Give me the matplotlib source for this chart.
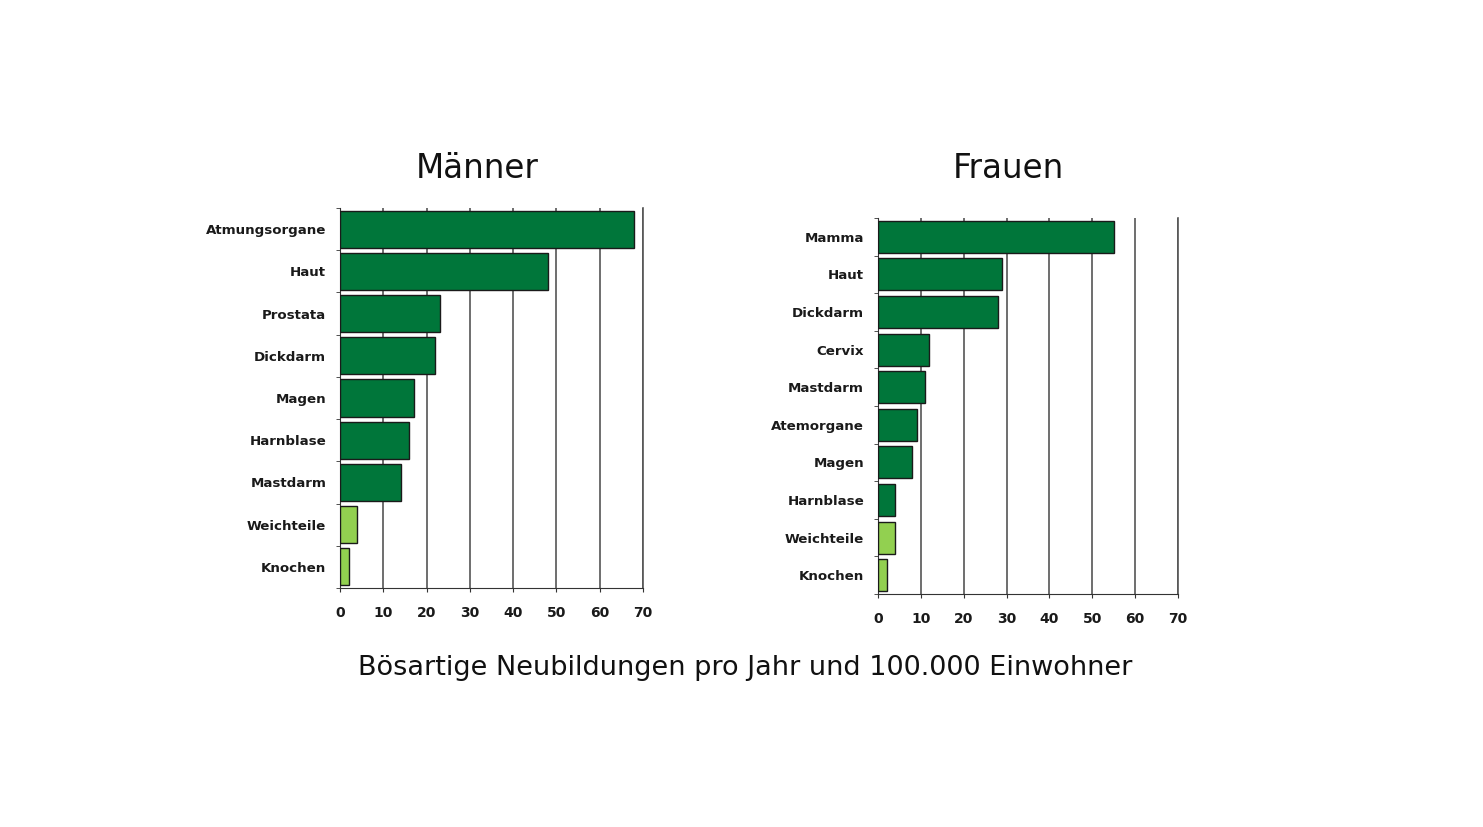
import numpy as np
import matplotlib
matplotlib.use('Agg')
import matplotlib.pyplot as plt

# Data
men_labels = ['Atmungsorgane', 'Haut', 'Prostata', 'Dickdarm', 'Magen',
              'Harnblase', 'Mastdarm', 'Weichteile', 'Knochen']
men_values = [68, 48, 23, 22, 17, 16, 14, 4, 2]
men_light = [False, False, False, False, False, False, False, True, True]

women_labels = ['Mamma', 'Haut', 'Dickdarm', 'Cervix', 'Mastdarm',
                'Atemorgane', 'Magen', 'Harnblase', 'Weichteile', 'Knochen']
women_values = [55, 29, 28, 12, 11, 9, 8, 4, 4, 2]
women_light = [False, False, False, False, False, False, False, False, True, True]

x_ticks = [0, 10, 20, 30, 40, 50, 60, 70]

DARK = '#00763a'
LIGHT = '#92d050'

fig = plt.figure(figsize=(14.83, 8.27), dpi=100)
fig.patch.set_facecolor('white')


def draw_panel(ax, labels, values, light, bar_h):
    n = len(labels)
    y = np.arange(n)
    colors = [LIGHT if l else DARK for l in light]
    ax.barh(y, values, height=bar_h, color=colors, edgecolor='#1a1a1a',
            linewidth=1.0, zorder=3)
    ax.set_ylim(n - 0.5, -0.5)
    ax.set_xlim(0, 70)
    ax.set_xticks(x_ticks)
    ax.set_xticklabels([str(t) for t in x_ticks], fontsize=10,
                       fontweight='bold', color='#1a1a1a')
    ax.set_yticks(y)
    ax.set_yticklabels(labels, fontsize=9.6, fontweight='bold', color='#1a1a1a')
    # small ticks between categories on the left spine
    ax.set_yticks(np.arange(n + 1) - 0.5, minor=True)
    ax.tick_params(axis='y', which='major', length=0, pad=10)
    ax.tick_params(axis='y', which='minor', length=3, color='#333333')
    ax.tick_params(axis='x', length=3, color='#333333', pad=10)
    ax.grid(axis='x', color='#555555', linewidth=1.2, zorder=0)
    ax.spines['top'].set_visible(False)
    ax.spines['right'].set_color('#555555')
    ax.spines['right'].set_linewidth(1.2)
    ax.spines['left'].set_color('#333333')
    ax.spines['bottom'].set_color('#333333')


ax1 = fig.add_axes([0.2293, 0.289, 0.2043, 0.4595])
draw_panel(ax1, men_labels, men_values, men_light, 0.88)

ax2 = fig.add_axes([0.592, 0.2817, 0.2023, 0.4547])
draw_panel(ax2, women_labels, women_values, women_light, 0.85)

fig.text(477 / 1483, 1 - 168 / 827, 'Männer', ha='center', va='center',
         fontsize=23.5, color='#111111')
fig.text(1008 / 1483, 1 - 168 / 827, 'Frauen', ha='center', va='center',
         fontsize=23.5, color='#111111')

fig.text(745 / 1483, 1 - 668 / 827, 'Bösartige Neubildungen pro Jahr und 100.000 Einwohner',
         ha='center', va='center', fontsize=19.5, color='#111111')

fig.savefig('out.png', dpi=100, facecolor='white')
